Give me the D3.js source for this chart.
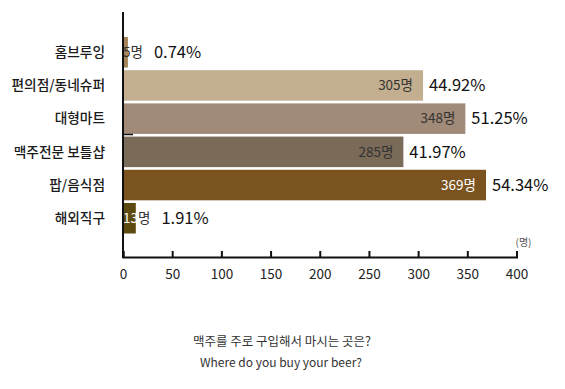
<!DOCTYPE html>
<html><head><meta charset="utf-8">
<script src="https://cdn.jsdelivr.net/npm/d3@7"></script>
<style>body{margin:0;background:#fff;}svg{display:block;}</style>
</head><body>
<svg id="c" width="565" height="389"></svg>
<script>
const categories = ["홈브루잉","편의점/동네슈퍼","대형마트","맥주전문 보틀샵","팝/음식점","해외직구"];
const counts = [5,305,348,285,369,13];
const percents = ["0.74%","44.92%","51.25%","41.97%","54.34%","1.91%"];
const colors = ["#a5845a","#c3af8f","#a18a78","#7a6a58","#7a531f","#5d4a10"];
const xTicks = [0,50,100,150,200,250,300,350,400];
const unitLabel = "(명)";
const title1 = "맥주를 주로 구입해서 마시는 곳은?";
const title2 = "Where do you buy your beer?";

const svg = d3.select("#c");
const font = "'Noto Sans CJK KR','Noto Sans',sans-serif";
const x0 = 123, x1 = 516.5, yTop = 12, yBot = 257;
const x = d3.scaleLinear().domain([0,400]).range([x0,x1]);
const y = d3.scaleBand().domain(categories).range([37, 233.5]).paddingInner(0.08).paddingOuter(0.0);

// bars
svg.selectAll("rect.bar").data(categories).enter().append("rect")
  .attr("x", x(0)).attr("y", d=>y(d)).attr("height", y.bandwidth())
  .attr("width", (d,i)=>x(counts[i])-x(0)).attr("fill",(d,i)=>colors[i]);

// category labels
svg.selectAll("text.cat").data(categories).enter().append("text")
  .attr("x", 105).attr("y", d=>y(d)+y.bandwidth()/2).attr("dy","0.35em")
  .attr("text-anchor","end").attr("font-family",font).attr("font-size",13.7).attr("font-weight",500)
  .attr("fill","#1a1a1a").text(d=>d);

// value labels
categories.forEach((c,i)=>{
  const v = counts[i], cy = y(c)+y.bandwidth()/2;
  const small = v < 50;
  const t = svg.append("text").attr("y",cy).attr("dy","0.35em")
    .attr("font-family",font).attr("font-size",13.5);
  let endX;
  if (small) {
    t.attr("x", x(0)).attr("text-anchor","start");
    const inner = i===5 ? "#fff" : "#333";
    t.append("tspan").attr("fill",inner).text(String(v));
    t.append("tspan").attr("fill","#333").text("명");
    endX = t.node().getComputedTextLength() + x(0);
    svg.append("text").attr("x", endX+11).attr("y",cy).attr("dy","0.35em")
      .attr("font-family",font).attr("font-size",16.5).attr("fill","#111").text(percents[i]);
  } else {
    t.attr("x", x(v)-10).attr("text-anchor","end")
      .attr("fill", i===4 ? "#fff" : "#333").text(v+"명");
    svg.append("text").attr("x", x(v)+6).attr("y",cy).attr("dy","0.35em")
      .attr("font-family",font).attr("font-size",16.5).attr("fill","#111").text(percents[i]);
  }
});

// y axis
svg.append("line").attr("x1",x0).attr("x2",x0).attr("y1",yTop).attr("y2",yBot+1)
  .attr("stroke","#111").attr("stroke-width",2);
svg.append("line").attr("x1",x0).attr("x2",x0+10).attr("y1",134.5).attr("y2",134.5)
  .attr("stroke","#111").attr("stroke-width",1.5);

// x axis
const ax = svg.append("g").attr("transform",`translate(0,${yBot})`)
  .call(d3.axisBottom(x).tickValues(xTicks).tickSize(-6).tickPadding(12).tickFormat(d3.format("d")));
ax.select(".domain").attr("stroke","#111").attr("stroke-width",2);
ax.selectAll(".tick line").attr("stroke","#111").attr("stroke-width",2);
ax.selectAll(".tick text").attr("font-family",font).attr("font-size",13.5).attr("fill","#222");

svg.append("text").attr("x",x(400)+7).attr("y",246).attr("text-anchor","middle")
  .attr("font-family",font).attr("font-size",10).attr("fill","#555").text(unitLabel);

svg.append("text").attr("x",282).attr("y",346).attr("text-anchor","middle")
  .attr("font-family",font).attr("font-size",12.5).attr("fill","#333").text(title1);
svg.append("text").attr("x",281).attr("y",367).attr("text-anchor","middle")
  .attr("font-family",font).attr("font-size",12).attr("fill","#333").text(title2);
</script>
</body></html>
